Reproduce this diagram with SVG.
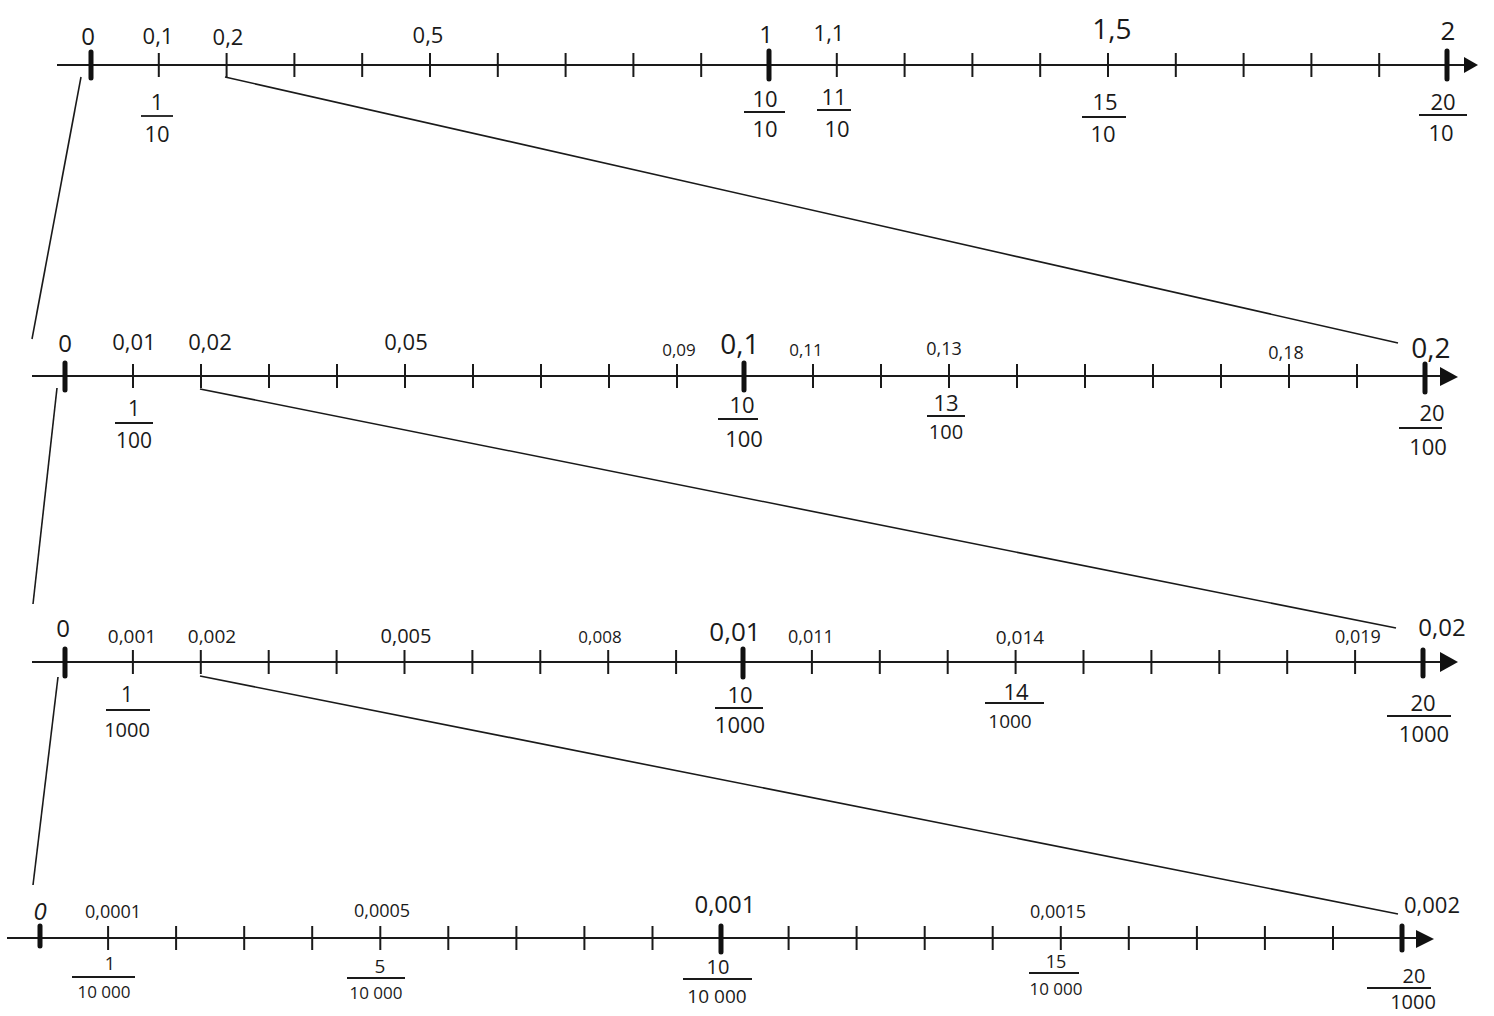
<svg xmlns="http://www.w3.org/2000/svg" width="1494" height="1016" viewBox="0 0 1494 1016">
<style>
.bg{fill:#ffffff}
.axis{stroke:#1a1a1a;stroke-width:2;fill:none}
.tick{stroke:#1a1a1a;stroke-width:2;fill:none}
.bold{stroke:#111;stroke-width:5;stroke-linecap:round;fill:none}
.arrow{fill:#111}
.conn{stroke:#1a1a1a;stroke-width:1.6;fill:none}
.bar{stroke:#1a1a1a;stroke-width:1.8}
text{font-family:"Open Sans","Liberation Sans",sans-serif;fill:#1a1a1a;text-anchor:middle;font-weight:400}
.s17{font-size:17px}.s18{font-size:18px}.s19{font-size:19px}.s20{font-size:20px}.s21{font-size:21px}.s22{font-size:22px}.s23{font-size:23px}.s24{font-size:24px}.s26{font-size:26px}.s28{font-size:28px}.s16{font-size:16px}
</style>
<rect class="bg" x="0" y="0" width="1494" height="1016"/>

<g id="connectors">
<line class="conn" x1="225" y1="77" x2="1398" y2="343"/>
<line class="conn" x1="81" y1="77" x2="32" y2="339"/>
<line class="conn" x1="200" y1="389" x2="1396" y2="628"/>
<line class="conn" x1="57" y1="388" x2="33" y2="604"/>
<line class="conn" x1="200" y1="676" x2="1398" y2="914"/>
<line class="conn" x1="58" y1="677" x2="33" y2="885"/>
</g>

<g id="line1">
<line class="axis" x1="57" y1="65" x2="1466" y2="65"/>
<polygon class="arrow" points="1464,57 1478,65 1464,73"/>
<path class="tick" d="M158.8 53V77M226.6 53V77M294.4 53V77M362.2 53V77M430 53V77M497.8 53V77M565.6 53V77M633.4 53V77M701.2 53V77M836.8 53V77M904.6 53V77M972.4 53V77M1040.2 53V77M1108 53V77M1175.8 53V77M1243.6 53V77M1311.4 53V77M1379.2 53V77"/>
<path class="bold" d="M91 52V78M769 51V79M1447 51V79"/>
<text class="s24" x="88" y="45">0</text>
<text class="s22" x="158" y="44">0,1</text>
<text class="s22" x="228" y="45">0,2</text>
<text class="s22" x="428" y="43">0,5</text>
<text class="s24" x="766" y="43">1</text>
<text class="s22" x="829" y="41">1,1</text>
<text class="s28" x="1112" y="39">1,5</text>
<text class="s26" x="1448" y="40">2</text>
<text class="s22" x="157" y="110">1</text><line class="bar" x1="141" y1="116" x2="173" y2="116"/><text class="s22" x="157" y="142">10</text>
<text class="s22" x="765" y="107">10</text><line class="bar" x1="744" y1="112" x2="785" y2="112"/><text class="s22" x="765" y="137">10</text>
<text class="s22" x="834" y="105">11</text><line class="bar" x1="817" y1="110" x2="851" y2="110"/><text class="s22" x="837" y="137">10</text>
<text class="s22" x="1105" y="110">15</text><line class="bar" x1="1082" y1="117" x2="1126" y2="117"/><text class="s22" x="1103" y="142">10</text>
<text class="s22" x="1443" y="110">20</text><line class="bar" x1="1419" y1="115" x2="1467" y2="115"/><text class="s22" x="1441" y="141">10</text>
</g>

<g id="line2">
<line class="axis" x1="32" y1="376" x2="1442" y2="376"/>
<polygon class="arrow" points="1440,367 1458,377 1440,386"/>
<path class="tick" d="M133 364V388M201 364V388M269 364V388M337 364V388M405 364V388M473 364V388M541 364V388M609 364V388M677 364V388M813 364V388M881 364V388M949 364V388M1017 364V388M1085 364V388M1153 364V388M1221 364V388M1289 364V388M1357 364V388"/>
<path class="bold" d="M65 363V390M744 363V390M1425 364V392"/>
<text class="s24" x="65" y="352">0</text>
<text class="s22" x="134" y="350">0,01</text>
<text class="s22" x="210" y="350">0,02</text>
<text class="s22" x="406" y="350">0,05</text>
<text class="s17" x="679" y="356">0,09</text>
<text class="s28" x="740" y="354">0,1</text>
<text class="s17" x="806" y="356">0,11</text>
<text class="s18" x="944" y="355">0,13</text>
<text class="s18" x="1286" y="359">0,18</text>
<text class="s28" x="1431" y="358">0,2</text>
<text class="s21" x="134" y="416">1</text><line class="bar" x1="115" y1="423" x2="153" y2="423"/><text class="s21" x="134" y="448">100</text>
<text class="s22" x="742" y="413">10</text><line class="bar" x1="718" y1="419" x2="758" y2="419"/><text class="s22" x="744" y="447">100</text>
<text class="s22" x="946" y="411">13</text><line class="bar" x1="927" y1="416" x2="965" y2="416"/><text class="s20" x="946" y="439">100</text>
<text class="s22" x="1432" y="421">20</text><line class="bar" x1="1399" y1="428" x2="1442" y2="428"/><text class="s22" x="1428" y="455">100</text>
</g>

<g id="line3">
<line class="axis" x1="32" y1="662" x2="1442" y2="662"/>
<polygon class="arrow" points="1440,652 1458,662 1440,672"/>
<path class="tick" d="M132.9 650V674M200.8 650V674M268.7 650V674M336.6 650V674M404.5 650V674M472.4 650V674M540.3 650V674M608.2 650V674M676.1 650V674M811.9 650V674M879.8 650V674M947.7 650V674M1015.6 650V674M1083.5 650V674M1151.4 650V674M1219.3 650V674M1287.2 650V674M1355.1 650V674"/>
<path class="bold" d="M65 649V676M743 649V677M1423 650V676"/>
<text class="s24" x="63" y="637">0</text>
<text class="s19" x="132" y="643">0,001</text>
<text class="s19" x="212" y="643">0,002</text>
<text class="s20" x="406" y="643">0,005</text>
<text class="s17" x="600" y="643">0,008</text>
<text class="s26" x="735" y="641">0,01</text>
<text class="s18" x="811" y="643">0,011</text>
<text class="s19" x="1020" y="644">0,014</text>
<text class="s18" x="1358" y="643">0,019</text>
<text class="s24" x="1442" y="636">0,02</text>
<text class="s21" x="127" y="702">1</text><line class="bar" x1="106" y1="710" x2="150" y2="710"/><text class="s20" x="127" y="737">1000</text>
<text class="s22" x="740" y="703">10</text><line class="bar" x1="715" y1="708" x2="763" y2="708"/><text class="s22" x="740" y="733">1000</text>
<text class="s22" x="1016" y="700">14</text><line class="bar" x1="985" y1="703" x2="1044" y2="703"/><text class="s19" x="1010" y="728">1000</text>
<text class="s22" x="1423" y="711">20</text><line class="bar" x1="1387" y1="716" x2="1451" y2="716"/><text class="s22" x="1424" y="742">1000</text>
</g>

<g id="line4">
<line class="axis" x1="7" y1="938" x2="1418" y2="938"/>
<polygon class="arrow" points="1416,930 1434,939 1416,948"/>
<path class="tick" d="M108.1 926V950M176.1 926V950M244.2 926V950M312.2 926V950M380.3 926V950M448.3 926V950M516.4 926V950M584.4 926V950M652.5 926V950M788.6 926V950M856.6 926V950M924.7 926V950M992.7 926V950M1060.8 926V950M1128.8 926V950M1196.9 926V950M1264.9 926V950M1333 926V950"/>
<path class="bold" d="M40 926V946M721 926V952M1402 926V950"/>
<text class="s24" x="40" y="920" font-style="italic" font-weight="600">0</text>
<text class="s18" x="113" y="918">0,0001</text>
<text class="s18" x="382" y="917">0,0005</text>
<text class="s24" x="725" y="913">0,001</text>
<text class="s18" x="1058" y="918">0,0015</text>
<text class="s22" x="1432" y="913">0,002</text>
<text class="s18" x="110" y="970">1</text><line class="bar" x1="72" y1="977" x2="135" y2="977"/><text class="s17" x="104" y="998">10 000</text>
<text class="s19" x="380" y="973">5</text><line class="bar" x1="347" y1="978" x2="405" y2="978"/><text class="s17" x="376" y="999">10 000</text>
<text class="s20" x="718" y="974">10</text><line class="bar" x1="683" y1="979" x2="752" y2="979"/><text class="s19" x="717" y="1003">10 000</text>
<text class="s18" x="1056" y="968">15</text><line class="bar" x1="1029" y1="973" x2="1079" y2="973"/><text class="s17" x="1056" y="995">10 000</text>
<text class="s20" x="1414" y="983">20</text><line class="bar" x1="1367" y1="988" x2="1431" y2="988"/><text class="s20" x="1413" y="1009">1000</text>
</g>
</svg>
